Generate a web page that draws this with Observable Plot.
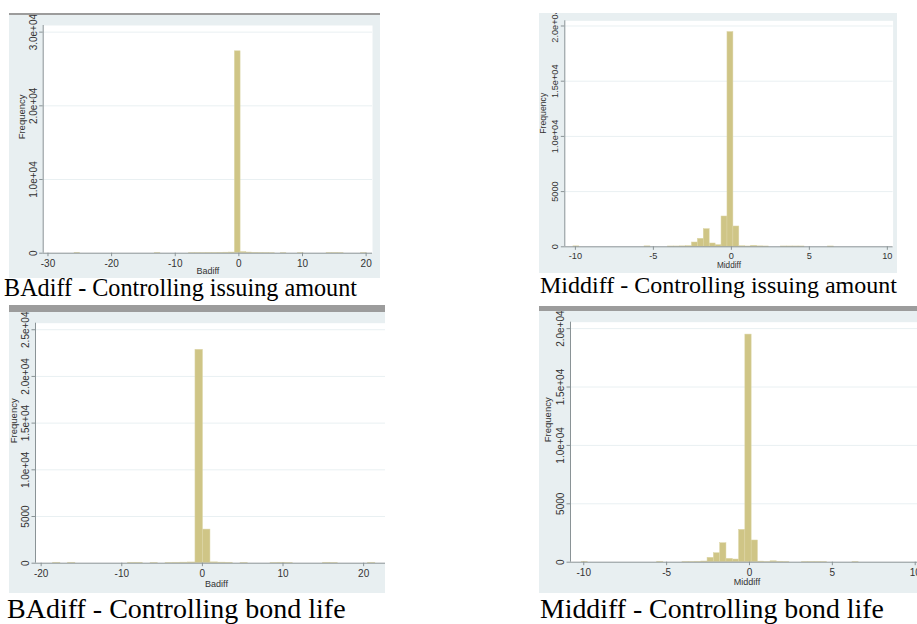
<!DOCTYPE html>
<html><head><meta charset="utf-8">
<script src="https://cdn.jsdelivr.net/npm/d3@7"></script>
<script src="https://cdn.jsdelivr.net/npm/@observablehq/plot@0.6"></script>
<style>
body{margin:0;background:#fff;width:917px;height:624px;position:relative;overflow:hidden;}
.panel{position:absolute;overflow:hidden;background:#e8eff1;}
.panel svg{max-width:none !important;display:block;}
.gbar{position:absolute;background:#9c9c9c;z-index:2;}
.cap{position:absolute;font-family:'Liberation Serif','Times New Roman',serif;line-height:1;white-space:nowrap;color:#000;}
</style></head><body>
<script>
// ---- Data: BAdiff, controlling issuing amount (top-left) ----
const badiffAmtLo = [-25.83, -13.23, -7.83, -6.93, -6.03, -5.13, -4.23, -3.33, -2.43, -1.53, -0.63, 0.27, 1.17, 2.07, 2.97, 3.87, 4.77, 6.57, 9.27, 13.77, 14.67, 15.57, 19.17];
const badiffAmtCount = [60, 50, 40, 40, 40, 50, 50, 60, 70, 90, 27400, 150, 90, 60, 50, 40, 30, 40, 40, 50, 50, 40, 40];
const badiffAmtBinWidth = 0.9;
const badiffAmtXTicks = [-30, -20, -10, 0, 10, 20];
const badiffAmtYTicks = [0, 10000, 20000, 30000];
const badiffAmtYLabels = ["0", "1.0e+04", "2.0e+04", "3.0e+04"];

// ---- Data: Middiff, controlling issuing amount (top-right) ----
const middiffAmtLo = [-10.13, -5.57, -4.05, -3.67, -3.29, -2.91, -2.53, -2.15, -1.77, -1.39, -1.01, -0.63, -0.25, 0.13, 0.51, 0.89, 1.27, 1.65, 2.03, 3.17, 3.55, 3.93, 4.31, 6.21];
const middiffAmtCount = [40, 40, 30, 30, 40, 60, 390, 725, 1600, 300, 150, 2745, 19450, 1840, 50, 30, 90, 40, 30, 30, 30, 30, 30, 30];
const middiffAmtBinWidth = 0.38;
const middiffAmtXTicks = [-10, -5, 0, 5, 10];
const middiffAmtYTicks = [0, 5000, 10000, 15000, 20000];
const middiffAmtYLabels = ["0", "5000", "1.0e+04", "1.5e+04", "2.0e+04"];

// ---- Data: BAdiff, controlling bond life (bottom-left) ----
const badiffLifeLo = [-18.53, -16.67, -9.23, -8.30, -6.44, -4.58, -3.65, -2.72, -1.79, -0.86, 0.07, 1.00, 1.93, 2.86, 4.72, 8.44, 9.37, 10.30, 14.95, 15.88, 20.53];
const badiffLifeCount = [50, 50, 50, 50, 40, 40, 50, 60, 80, 22850, 3600, 90, 60, 50, 40, 40, 50, 40, 50, 40, 50];
const badiffLifeBinWidth = 0.93;
const badiffLifeXTicks = [-20, -10, 0, 10, 20];
const badiffLifeYTicks = [0, 5000, 10000, 15000, 20000, 25000];
const badiffLifeYLabels = ["0", "5000", "1.0e+04", "1.5e+04", "2.0e+04", "2.5e+04"];

// ---- Data: Middiff, controlling bond life (bottom-right) ----
const middiffLifeLo = [-10.13, -5.57, -4.05, -3.67, -3.29, -2.91, -2.53, -2.15, -1.77, -1.39, -1.01, -0.63, -0.25, 0.13, 0.51, 0.89, 1.27, 1.65, 2.03, 3.17, 3.55, 3.93, 4.31, 6.21];
const middiffLifeCount = [40, 40, 30, 30, 40, 60, 375, 770, 1625, 290, 230, 2770, 19490, 1860, 50, 30, 80, 40, 30, 30, 30, 30, 30, 30];
const middiffLifeBinWidth = 0.38;
const middiffLifeXTicks = [-10, -5, 0, 5, 10];
const middiffLifeYTicks = [0, 5000, 10000, 15000, 20000];
const middiffLifeYLabels = ["0", "5000", "1.0e+04", "1.5e+04", "2.0e+04"];

const captions = [
  "BAdiff - Controlling issuing amount",
  "Middiff - Controlling issuing amount",
  "BAdiff - Controlling bond life",
  "Middiff - Controlling bond life"
];

// ---- Styling ----
const FONT = "'Liberation Sans', Arial, sans-serif";
const BAR = "#cfc586";
const BAR_EDGE = "#dcd5a6";
const GRID = "#e9f0f2";
const AXIS = "#8a9396";
const TEXT = "#333";

function fmtX(d) { return (d < 0 ? "-" : "") + Math.abs(d); }

function histPanel(o) {
  const bins = o.lo.map((l, i) => ({x1: l, x2: l + o.bw, y: o.count[i]}));
  return Plot.plot({
    width: o.w, height: o.h,
    marginLeft: o.ml, marginRight: o.mr, marginTop: o.mt, marginBottom: o.mb,
    style: {background: "transparent", fontFamily: FONT, fontSize: o.fs + "px", overflow: "visible", maxWidth: "none"},
    x: {domain: o.xDomain, axis: null},
    y: {domain: o.yDomain, axis: null},
    marks: [
      Plot.frame({fill: "white", stroke: "none"}),
      Plot.ruleY(o.yTicks.filter(d => d > 0), {stroke: GRID, strokeWidth: 1}),
      Plot.rectY(bins, {x1: "x1", x2: "x2", y1: 0, y2: "y", fill: BAR, stroke: BAR_EDGE, strokeWidth: 0.5}),
      Plot.ruleY([0], {stroke: AXIS}),
      Plot.ruleX([o.xDomain[0]], {stroke: AXIS}),
      Plot.axisX({ticks: o.xTicks, tickFormat: fmtX, tickSize: 3.5, tickPadding: o.xPad, stroke: AXIS, fill: TEXT, fontSize: o.fs, label: null}),
      Plot.axisY({ticks: o.yTicks, tickFormat: d => o.yLabels[o.yTicks.indexOf(d)], tickRotate: -90, tickSize: 3.5, tickPadding: 3, stroke: AXIS, fill: TEXT, fontSize: o.fs, label: null}),
      Plot.text([o.xTitle], {text: d => d, frameAnchor: "bottom", dy: o.xTitleDy, fontSize: o.fs - 1, fill: TEXT}),
      Plot.text(["Frequency"], {text: d => d, frameAnchor: "left", rotate: -90, dx: o.yTitleDx, fontSize: o.fs - 0.5, fill: TEXT})
    ]
  });
}

function addDiv(cls, left, top, width, height) {
  const d = document.createElement("div");
  d.className = cls;
  Object.assign(d.style, {left: left + "px", top: top + "px", width: width + "px", height: height + "px"});
  document.body.appendChild(d);
  return d;
}
function addCaption(text, left, baseline, size) {
  const d = document.createElement("div");
  d.className = "cap";
  d.textContent = text;
  Object.assign(d.style, {left: left + "px", top: (baseline - 0.8375 * size) + "px", fontSize: size + "px"});
  document.body.appendChild(d);
}

// Top-left
addDiv("gbar", 9, 12.7, 371, 2.5);
addDiv("panel", 9, 15, 371, 263).appendChild(histPanel({
  lo: badiffAmtLo, count: badiffAmtCount, bw: badiffAmtBinWidth,
  xTicks: badiffAmtXTicks, yTicks: badiffAmtYTicks, yLabels: badiffAmtYLabels,
  xTitle: "Badiff", xDomain: [-30.75, 21.0], yDomain: [0, 30900],
  w: 371, h: 263, ml: 33.7, mr: 8, mt: 10, mb: 25.3, fs: 10, xPad: 3, xTitleDy: 21, yTitleDx: -21
}));
addCaption(captions[0], 4, 296.7, 24.2);

// Top-right
addDiv("panel", 539, 12.7, 358, 260).appendChild(histPanel({
  lo: middiffAmtLo, count: middiffAmtCount, bw: middiffAmtBinWidth,
  xTicks: middiffAmtXTicks, yTicks: middiffAmtYTicks, yLabels: middiffAmtYLabels,
  xTitle: "Middiff", xDomain: [-10.68, 10.37], yDomain: [0, 20470],
  w: 358, h: 260, ml: 25.3, mr: 4.4, mt: 7.3, mb: 26.7, fs: 9.2, xPad: 2, xTitleDy: 21.5, yTitleDx: -21.3
}));
addCaption(captions[1], 540, 292.7, 24);

// Bottom-left
addDiv("gbar", 9, 305, 376, 7);
addDiv("panel", 9, 312, 376, 281).appendChild(histPanel({
  lo: badiffLifeLo, count: badiffLifeCount, bw: badiffLifeBinWidth,
  xTicks: badiffLifeXTicks, yTicks: badiffLifeYTicks, yLabels: badiffLifeYLabels,
  xTitle: "Badiff", xDomain: [-20.7, 24.2], yDomain: [0, 25700],
  w: 392, h: 281, ml: 26, mr: 4, mt: 10.7, mb: 30.3, fs: 10, xPad: 3, xTitleDy: 23.8, yTitleDx: -21.7
}));
addCaption(captions[2], 7, 618.5, 28);

// Bottom-right
addDiv("gbar", 539, 305.7, 378, 5.3);
addDiv("panel", 539, 311, 378, 282).appendChild(histPanel({
  lo: middiffLifeLo, count: middiffLifeCount, bw: middiffLifeBinWidth,
  xTicks: middiffLifeXTicks, yTicks: middiffLifeYTicks, yLabels: middiffLifeYLabels,
  xTitle: "Middiff", xDomain: [-10.8, 10.5], yDomain: [0, 20550],
  w: 388, h: 282, ml: 31, mr: 4, mt: 10.7, mb: 31.3, fs: 10, xPad: 3, xTitleDy: 23.1, yTitleDx: -23
}));
addCaption(captions[3], 540, 618.5, 27.8);
</script>
</body></html>
